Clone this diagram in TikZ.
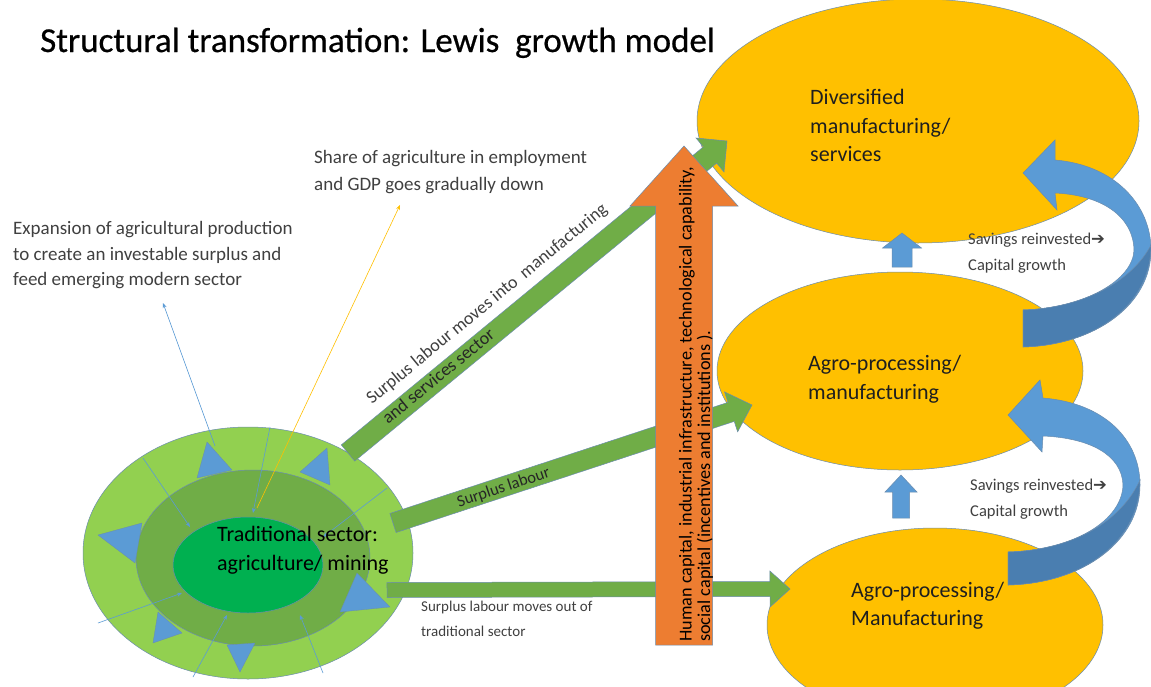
\documentclass[tikz,border=0pt]{standalone}
\usepackage{fontspec}
\setmainfont{Carlito}
\newfontfamily\symfont{DejaVu Sans}
\newfontfamily\titlefont[FakeBold=0.6]{Carlito}
\usetikzlibrary{calc,shapes.geometric,arrows.meta}

\definecolor{gold}{HTML}{FFC000}
\definecolor{orng}{HTML}{ED7D31}
\definecolor{grn}{HTML}{70AD47}
\definecolor{lgrn}{HTML}{92D050}
\definecolor{dgrn}{HTML}{00B050}
\definecolor{blu}{HTML}{5B9BD5}
\definecolor{dblu}{HTML}{4A7EB0}
\definecolor{edgec}{HTML}{6A8CAE}
\definecolor{txt}{HTML}{404040}

% #1 style, #2 tail coordinate, #3 tip coordinate, #4 half shaft width, #5 half head width, #6 head length
\newcommand{\blockarrow}[6]{%
  \coordinate (ba-h) at ($(#3)!#6!(#2)$);
  \path[#1] ($(#2)!#4!90:(#3)$) -- ($(ba-h)!#4!-90:(#2)$) -- ($(ba-h)!#5!-90:(#2)$) -- (#3)
     -- ($(ba-h)!#5!90:(#2)$) -- ($(ba-h)!#4!90:(#2)$) -- ($(#2)!#4!-90:(#3)$) -- cycle;
}

\begin{document}
\begin{tikzpicture}[x=1pt,y=-1pt,
  edgeln/.style={draw=edgec, line width=0.5pt},
  sector/.style={ellipse, inner sep=0pt, edgeln},
  lbl/.style={anchor=base west, inner sep=0pt, font=\fontsize{22}{26}\selectfont, text=black!88},
  note/.style={anchor=base west, inner sep=0pt, font=\fontsize{19}{22}\selectfont, text=txt},
  sav/.style={anchor=base west, inner sep=0pt, font=\fontsize{16.5}{20}\selectfont, text=txt},
  small/.style={anchor=base west, inner sep=0pt, font=\fontsize{15}{18}\selectfont, text=txt},
  thinarr/.style={draw=blu, line width=0.6pt, -{Stealth[length=5pt,width=4pt]}},
  tri/.style={fill=blu, draw=edgec, line width=0.3pt},
  garrow/.style={fill=grn, edgeln},
  barrow/.style={fill=blu, edgeln},
  captxt/.style={anchor=base west, rotate=90, inner sep=0pt, font=\fontsize{18.2}{20}\selectfont, text=black},
]
\useasboundingbox[fill=white] (0,0) rectangle (1151,686);

% ---------- traditional sector ----------
\node[sector, fill=lgrn, minimum width=330pt, minimum height=252pt] (outer) at (248,553) {};
\node[sector, fill=grn, minimum width=234pt, minimum height=176pt] (ring) at (253,558) {};
\node[sector, fill=dgrn, minimum width=150pt, minimum height=96pt] (inner) at (248,565) {};

\fill[tri] (197,478) -- (207,442) -- (232,470) -- cycle;
\fill[tri] (300,472) -- (327,448) -- (330,485) -- cycle;
\fill[tri] (98,535) -- (142,523) -- (135,563) -- cycle;
\fill[tri] (340,612) -- (357,573) -- (390,607) -- cycle;
\fill[tri] (153,643) -- (158,612) -- (182,633) -- cycle;
\fill[tri] (227,645) -- (255,643) -- (240,672) -- cycle;

\coordinate (la0) at (215,446); \coordinate (la1) at (163,303);
\coordinate (lb0) at (143,458); \coordinate (lb1) at (190,527);
\coordinate (lc0) at (270,427); \coordinate (lc1) at (253,513);
\coordinate (le0) at (387,488); \coordinate (le1) at (323,537);
\coordinate (lf0) at (98,623);  \coordinate (lf1) at (182,593);
\coordinate (lg0) at (193,677); \coordinate (lg1) at (227,615);
\coordinate (lh0) at (323,673); \coordinate (lh1) at (300,615);
\coordinate (lo0) at (257,508); \coordinate (lo1) at (400,205);
\draw[thinarr] (la0) -- (la1);
\draw[thinarr] (lb0) -- (lb1);
\draw[thinarr] (lc0) -- (lc1);
\draw[thinarr] (le0) -- (le1);
\draw[thinarr] (lf0) -- (lf1);
\draw[thinarr] (lg0) -- (lg1);
\draw[thinarr] (lh0) -- (lh1);
\draw[draw=gold, line width=0.6pt, -{Stealth[length=5pt,width=4pt]}] (lo0) -- (lo1);

% ---------- modern sectors ----------
\node[sector, fill=gold, minimum width=442pt, minimum height=244pt] (div) at (918,121) {};
\node[sector, fill=gold, minimum width=366pt, minimum height=198pt] (agro2) at (900,371) {};
\node[sector, fill=gold, minimum width=336pt, minimum height=194pt] (agro1) at (935,625) {};

% ---------- green labour arrows ----------
\coordinate (g1t) at (348,453); \coordinate (g1h) at (727,141);
\coordinate (g2t) at (393,523); \coordinate (g2h) at (752,405);
\coordinate (g3t) at (387,590); \coordinate (g3h) at (790,589);
\blockarrow{garrow}{g1t}{g1h}{10.5pt}{22pt}{22pt}
\blockarrow{garrow}{g2t}{g2h}{10pt}{21pt}{22pt}
\blockarrow{garrow}{g3t}{g3h}{7.5pt}{18pt}{20pt}

% ---------- orange capital arrow ----------
\coordinate (ort) at (684,645); \coordinate (orh) at (684,146);
\blockarrow{fill=orng, edgeln}{ort}{orh}{28.5pt}{54pt}{60pt}

% ---------- small blue up arrows ----------
\coordinate (s1t) at (902,267); \coordinate (s1h) at (902,233);
\coordinate (s2t) at (901,518); \coordinate (s2h) at (901,475);
\blockarrow{barrow}{s1t}{s1h}{10pt}{19.5pt}{15pt}
\blockarrow{barrow}{s2t}{s2h}{8.5pt}{16pt}{17pt}

% ---------- curved blue arrows ----------
\path[barrow] (1055,160) .. controls (1115,165) and (1151,205) .. (1151,250)
   .. controls (1151,305) and (1095,345) .. (1023,347) -- (1023,310)
   .. controls (1085,308) and (1133,280) .. (1134,250)
   .. controls (1133,215) and (1100,195) .. (1055,193) -- (1057,210) -- (1023,173) -- (1055,140) -- cycle;
\path[fill=dblu, edgeln] (1151,245) .. controls (1151,305) and (1095,345) .. (1023,347) -- (1023,310)
   .. controls (1085,308) and (1133,280) .. (1151,245) -- cycle;

\path[barrow] (1043,398) .. controls (1105,403) and (1140,440) .. (1140,485)
   .. controls (1140,540) and (1085,583) .. (1008,585) -- (1008,552)
   .. controls (1075,550) and (1122,520) .. (1123,485)
   .. controls (1122,455) and (1090,438) .. (1043,436) -- (1042,452) -- (1008,415) -- (1040,380) -- cycle;
\path[fill=dblu, edgeln] (1140,480) .. controls (1140,540) and (1085,583) .. (1008,585) -- (1008,552)
   .. controls (1075,550) and (1122,520) .. (1140,480) -- cycle;

% ---------- texts ----------
\node[anchor=base west, inner sep=0pt, font=\titlefont\fontsize{35}{38}\selectfont] (title) at (40,52) {Structural transformation: Lewis\ \ growth model};

\node[note] (ex1) at (13,234) {Expansion of agricultural production};
\node[note] (ex2) at (13,260) {to create an investable surplus and};
\node[note] (ex3) at (13,285) {feed emerging modern sector};

\node[note] (sh1) at (314,163) {Share of agriculture in employment};
\node[note] (sh2) at (314,190) {and GDP goes gradually down};

\node[lbl] (dv1) at (810,104) {Diversified};
\node[lbl] (dv2) at (810,133) {manufacturing/};
\node[lbl] (dv3) at (810,161) {services};

\node[lbl] (ag1) at (808,370) {Agro-processing/};
\node[lbl] (ag2) at (808,399) {manufacturing};

\node[lbl] (bg1) at (851,597) {Agro-processing/};
\node[lbl] (bg2) at (851,625) {Manufacturing};

\node[lbl, text=black] (tr1) at (217,541) {Traditional sector:};
\node[lbl, text=black] (tr2) at (217,570) {agriculture/ mining};

\node[sav] (sv1) at (968,244) {Savings reinvested{\symfont\bfseries ➔}};
\node[sav] (sv2) at (968,270) {Capital growth};
\node[sav] (sv3) at (970,490) {Savings reinvested{\symfont\bfseries ➔}};
\node[sav] (sv4) at (970,516) {Capital growth};

\node[small] (ou1) at (421,611) {Surplus labour moves out of};
\node[small] (ou2) at (421,636) {traditional sector};

\node[anchor=base west, inner sep=0pt, font=\fontsize{18}{21}\selectfont, text=txt, rotate=39.4] (dg1) at (372,405) {Surplus labour moves into\ \ manufacturing};
\node[anchor=base west, inner sep=0pt, font=\fontsize{18}{21}\selectfont, text=black!85, rotate=39.4] (dg2) at (388,425) {and services sector};

\node[sav, rotate=18.5, anchor=base, text=black!85] (md1) at (505,492) {Surplus labour};

\node[captxt] (hc1) at (691.5,642) {Human capital, industrial infrastructure, technological capability,};
\node[captxt] (hc2) at (710,642) {social capital (incentives and institutions ).};
\end{tikzpicture}
\end{document}
